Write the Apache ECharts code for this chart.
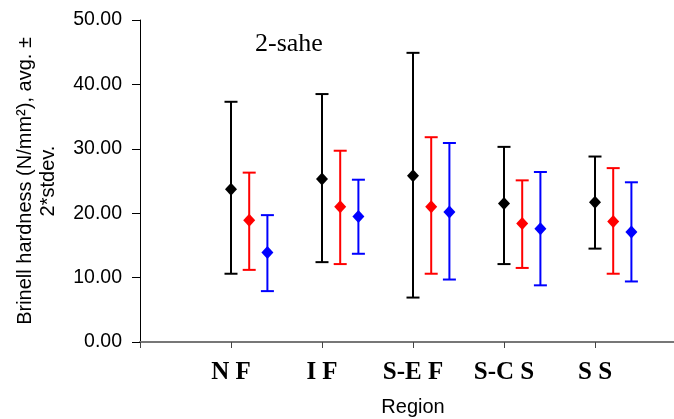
<!DOCTYPE html>
<html><head><meta charset="utf-8">
<script src="https://cdn.jsdelivr.net/npm/echarts@6/dist/echarts.min.js"></script>
<style>html,body{margin:0;padding:0;background:#fff}#c{width:674px;height:419px}</style>
</head><body><div id="c"></div>
<script>
const categories = ['N F', 'I F', 'S-E F', 'S-C S', 'S S'];
const yTicks = [0, 10, 20, 30, 40, 50];
const blackMean = [23.7, 25.3, 25.8, 21.5, 21.7];
const blackLow  = [10.6, 12.4, 6.9, 12.1, 14.5];
const blackHigh = [37.3, 38.5, 44.9, 30.3, 28.8];
const redMean = [18.9, 21.0, 21.0, 18.4, 18.7];
const redLow  = [11.2, 12.1, 10.6, 11.5, 10.6];
const redHigh = [26.3, 29.7, 31.8, 25.1, 27.0];
const blueMean = [13.9, 19.5, 20.2, 17.6, 17.1];
const blueLow  = [7.9, 13.7, 9.7, 8.8, 9.4];
const blueHigh = [19.7, 25.2, 30.9, 26.4, 24.8];

const groups = [
  {color: '#000000', mean: blackMean, low: blackLow, high: blackHigh, off: 0},
  {color: '#ff0000', mean: redMean, low: redLow, high: redHigh, off: 0.2},
  {color: '#0000ff', mean: blueMean, low: blueLow, high: blueHigh, off: 0.4}
];

const series = [];
groups.forEach(g => {
  series.push({
    type: 'custom',
    data: categories.map((c, i) => [i + 1 + g.off, g.low[i], g.high[i]]),
    renderItem: function (params, api) {
      const x = api.value(0);
      const lo = api.coord([x, api.value(1)]);
      const hi = api.coord([x, api.value(2)]);
      const hw = 6.5;
      const st = {stroke: g.color, lineWidth: 2};
      return {
        type: 'group',
        children: [
          {type: 'line', shape: {x1: lo[0], y1: lo[1], x2: hi[0], y2: hi[1]}, style: st},
          {type: 'line', shape: {x1: lo[0] - hw, y1: lo[1], x2: lo[0] + hw, y2: lo[1]}, style: st},
          {type: 'line', shape: {x1: hi[0] - hw, y1: hi[1], x2: hi[0] + hw, y2: hi[1]}, style: st}
        ]
      };
    },
    z: 2
  });
  series.push({
    type: 'scatter',
    symbol: 'diamond',
    symbolSize: [12, 13],
    itemStyle: {color: g.color, opacity: 1},
    data: categories.map((c, i) => [i + 1 + g.off, g.mean[i]]),
    z: 3
  });
});

const chart = echarts.init(document.getElementById('c'));
chart.setOption({
  animation: false,
  backgroundColor: '#fff',
  title: {
    text: '2-sahe', left: 250, top: 26,
    textStyle: {fontFamily: 'Liberation Serif', fontSize: 26, fontWeight: 'normal', color: '#000'}
  },
  grid: {left: 140, top: 20, width: 546, bottom: 77, containLabel: false, outerBoundsMode: 'none'},
  xAxis: {
    type: 'value', min: 0, max: 6, interval: 1,
    axisLine: {lineStyle: {color: '#777', width: 2}},
    axisTick: {show: true, length: 6, lineStyle: {color: '#444', width: 1}},
    splitLine: {show: false},
    axisLabel: {
      margin: 18,
      formatter: v => categories[v - 1] || '',
      fontFamily: 'Liberation Serif', fontWeight: 'bold', fontSize: 25, color: '#000'
    },
    name: 'Region', nameLocation: 'middle', nameGap: 55,
    nameTextStyle: {fontFamily: 'Liberation Sans', fontSize: 20, color: '#000'}
  },
  yAxis: {
    type: 'value', min: 0, max: 50, interval: 10,
    axisLine: {show: true, lineStyle: {color: '#000', width: 1}},
    axisTick: {show: true, length: 8, lineStyle: {color: '#000'}},
    splitLine: {show: false},
    axisLabel: {
      margin: 18,
      formatter: v => yTicks.indexOf(v) >= 0 ? v.toFixed(2) : '',
      fontFamily: 'Liberation Sans', fontSize: 19.5, color: '#000'
    },
    name: 'Brinell hardness (N/mm²), avg. ±\n2*stdev.', nameLocation: 'middle', nameGap: 80,
    nameTextStyle: {fontFamily: 'Liberation Sans', fontSize: 20, color: '#000', lineHeight: 23, align: 'center'}
  },
  series: series
});
</script></body></html>
